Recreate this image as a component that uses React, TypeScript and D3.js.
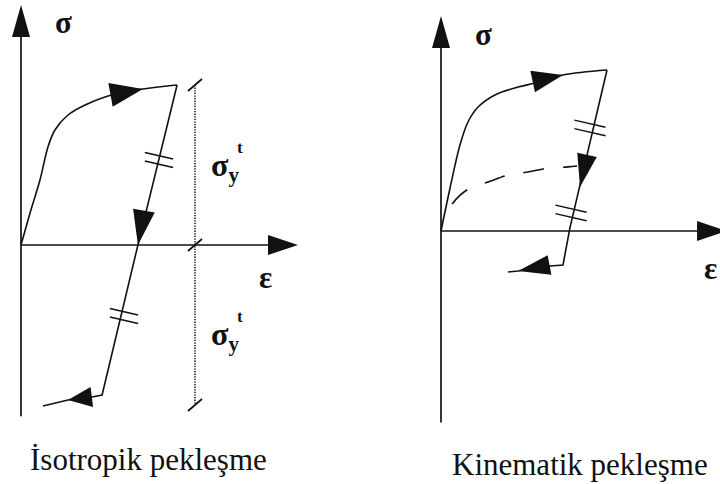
import React from "react";
import * as d3 from "d3";

type P = [number, number];

// ---- Data (strain ε, stress σ in normalised units) ----
const ISO_LOADING: P[] = [[0,0],[0.052,0.2],[0.109,0.406],[0.155,0.613],[0.195,0.719],[0.27,0.8125],[0.368,0.875],[0.483,0.925],[0.598,0.956],[0.701,0.975],[0.839,0.994],[0.897,1.0]];
const ISO_UNLOADING: P[] = [[0.897,1.0],[0.672,0],[0.466,-0.9375],[0.408,-0.95],[0.27,-0.969],[0.126,-1.006]];
const ISO_ARROWS = [
  { tip: [0.701, 0.975] as P, from: [0.511, 0.9375] as P, len: 33, hw: 12 },
  { tip: [0.672, 0] as P, from: [0.707, 0.219] as P, len: 35, hw: 11 },
  { tip: [0.27, -0.969] as P, from: [0.408, -0.95] as P, len: 24, hw: 10 },
];
const ISO_SLASHES: P[] = [[0.793, 0.531], [0.592, -0.444]];
const ISO_YIELD_EPS = 1;
const ISO_YIELD_RANGE: P = [-1, 1];

const KIN_LOADING: P[] = [[0,0],[0.052,0.267],[0.109,0.534],[0.155,0.677],[0.213,0.77],[0.31,0.845],[0.443,0.894],[0.54,0.919],[0.701,0.969],[0.954,1.0]];
const KIN_UNLOADING: P[] = [[0.954,1.0],[0.741,0.019],[0.701,-0.211],[0.626,-0.217],[0.443,-0.248],[0.385,-0.255]];
const KIN_DASHED: P[] = [[0,0],[0.069,0.174],[0.167,0.267],[0.27,0.304],[0.385,0.348],[0.5,0.366],[0.615,0.391],[0.73,0.398],[0.782,0.404]];
const KIN_ARROWS = [
  { tip: [0.701, 0.969] as P, from: [0.54, 0.932] as P, len: 31, hw: 11 },
  { tip: [0.799, 0.273] as P, from: [0.839, 0.472] as P, len: 33, hw: 10 },
  { tip: [0.443, -0.248] as P, from: [0.626, -0.211] as P, len: 32, hw: 10 },
];
const KIN_SLASHES: P[] = [[0.856, 0.64], [0.747, 0.112]];

const TITLES = ["İsotropik pekleşme", "Kinematik pekleşme"];
const AXIS_LABELS = { stress: "σ", strain: "ε", yieldSym: "σ", yieldSub: "y", yieldSup: "t" };

const FONT = "'Times New Roman', 'Liberation Serif', 'DejaVu Serif', serif";
const INK = "#111";

// scales
const xIso = d3.scaleLinear().domain([0, 1]).range([21, 195]);
const yIso = d3.scaleLinear().domain([-1, 1]).range([405, 85]);
const xKin = d3.scaleLinear().domain([0, 1]).range([441, 615]);
const yKin = d3.scaleLinear().domain([-1, 1]).range([392, 70]);

function arrowPath(tipPx: P, fromPx: P, len: number, hw: number) {
  const dx = tipPx[0] - fromPx[0];
  const dy = tipPx[1] - fromPx[1];
  const n = Math.hypot(dx, dy) || 1;
  const ux = dx / n, uy = dy / n;
  const bx = tipPx[0] - ux * len, by = tipPx[1] - uy * len;
  const px = -uy, py = ux;
  return `M${tipPx[0]},${tipPx[1]}L${bx + px * hw},${by + py * hw}L${bx - px * hw},${by - py * hw}Z`;
}

function Slash({ cx, cy, len = 29, gap = 8.5, angle = 13 }: { cx: number; cy: number; len?: number; gap?: number; angle?: number }) {
  const a = (angle * Math.PI) / 180;
  const ux = Math.cos(a), uy = Math.sin(a);
  const h = len / 2;
  return (
    <g stroke={INK} strokeWidth={1.5}>
      {[-gap / 2, gap / 2].map((o, i) => (
        <line key={i} x1={cx - ux * h} y1={cy - uy * h + o} x2={cx + ux * h} y2={cy + uy * h + o} />
      ))}
    </g>
  );
}

function Axes({ x, y, yMin, yMax, xMax }: { x: d3.ScaleLinear<number, number>; y: d3.ScaleLinear<number, number>; yMin: number; yMax: number; xMax: number }) {
  const x0 = x(0), y0 = y(0);
  const yTop = y(yMax), yBot = y(yMin), xEnd = x(xMax);
  return (
    <g>
      <line x1={x0} y1={yBot} x2={x0} y2={yTop + 20} stroke={INK} strokeWidth={1.7} />
      <path d={`M${x0},${yTop}L${x0 + 9},${yTop + 32}L${x0 - 9},${yTop + 32}Z`} fill={INK} />
      <line x1={x0} y1={y0} x2={xEnd - 20} y2={y0} stroke={INK} strokeWidth={1.7} />
      <path d={`M${xEnd},${y0}L${xEnd - 30},${y0 - 10}L${xEnd - 30},${y0 + 10}Z`} fill={INK} />
    </g>
  );
}

export default function App() {
  const lineIso = (pts: P[], curve = d3.curveLinear) =>
    d3.line<P>().x((d) => xIso(d[0])).y((d) => yIso(d[1])).curve(curve)(pts) || "";
  const lineKin = (pts: P[], curve = d3.curveLinear) =>
    d3.line<P>().x((d) => xKin(d[0])).y((d) => yKin(d[1])).curve(curve)(pts) || "";

  const dottedX = xIso(ISO_YIELD_EPS);
  const dTop = yIso(ISO_YIELD_RANGE[1]);
  const dBot = yIso(ISO_YIELD_RANGE[0]);
  const dMid = yIso(0);

  const tickSlash = (cx: number, cy: number, k: number) => (
    <line key={k} x1={cx - 7} y1={cy + 6} x2={cx + 7} y2={cy - 6} stroke={INK} strokeWidth={1.7} />
  );
  const ts: React.CSSProperties = { fontFamily: FONT };

  return (
    <svg width={720} height={484} style={{ position: "absolute", left: 0, top: 0, background: "#fff" }}>
      <rect width={720} height={484} fill="#fff" />
      {/* ---------- Isotropic ---------- */}
      <Axes x={xIso} y={yIso} yMin={-1.07} yMax={1.5} xMax={1.592} />
      <path d={lineIso(ISO_LOADING, d3.curveCatmullRom.alpha(0.5))} fill="none" stroke={INK} strokeWidth={1.6} />
      <path d={lineIso(ISO_UNLOADING)} fill="none" stroke={INK} strokeWidth={1.6} />
      {ISO_ARROWS.map((a, i) => (
        <path key={i} d={arrowPath([xIso(a.tip[0]), yIso(a.tip[1])], [xIso(a.from[0]), yIso(a.from[1])], a.len, a.hw)} fill={INK} />
      ))}
      {ISO_SLASHES.map((s, i) => (
        <Slash key={i} cx={xIso(s[0])} cy={yIso(s[1])} />
      ))}
      <line x1={dottedX} y1={dTop} x2={dottedX} y2={dBot} stroke="#333" strokeWidth={1.8} strokeDasharray="1.3 1.3" />
      {[dTop, dMid, dBot].map((cy, i) => tickSlash(dottedX, cy, i))}
      <text x={55} y={33} fontSize={31} fontWeight="bold" fill={INK} style={ts}>{AXIS_LABELS.stress}</text>
      <text x={259} y={288} fontSize={31} fontWeight="bold" fill={INK} style={ts}>{AXIS_LABELS.strain}</text>
      <text x={211} y={176} fill={INK} fontWeight="bold" style={ts}>
        <tspan fontSize={32}>{AXIS_LABELS.yieldSym}</tspan>
        <tspan fontSize={21} dy={6}>{AXIS_LABELS.yieldSub}</tspan>
        <tspan fontSize={17} dx={-2} dy={-29}>{AXIS_LABELS.yieldSup}</tspan>
      </text>
      <text x={211} y={345} fill={INK} fontWeight="bold" style={ts}>
        <tspan fontSize={32}>{AXIS_LABELS.yieldSym}</tspan>
        <tspan fontSize={21} dy={6}>{AXIS_LABELS.yieldSub}</tspan>
        <tspan fontSize={17} dx={-2} dy={-29}>{AXIS_LABELS.yieldSup}</tspan>
      </text>
      <text x={30} y={470} fontSize={31} fill={INK} style={ts}>{TITLES[0]}</text>

      {/* ---------- Kinematic ---------- */}
      <Axes x={xKin} y={yKin} yMin={-1.19} yMax={1.335} xMax={1.644} />
      <path d={lineKin(KIN_LOADING, d3.curveCatmullRom.alpha(0.5))} fill="none" stroke={INK} strokeWidth={1.6} />
      <path d={lineKin(KIN_UNLOADING)} fill="none" stroke={INK} strokeWidth={1.6} />
      <path d={lineKin(KIN_DASHED, d3.curveCatmullRom.alpha(0.5))} fill="none" stroke={INK} strokeWidth={1.6} strokeDasharray="0 29 21 19 21 19 21 19 60" />
      {KIN_ARROWS.map((a, i) => (
        <path key={i} d={arrowPath([xKin(a.tip[0]), yKin(a.tip[1])], [xKin(a.from[0]), yKin(a.from[1])], a.len, a.hw)} fill={INK} />
      ))}
      {KIN_SLASHES.map((s, i) => (
        <Slash key={i} cx={xKin(s[0])} cy={yKin(s[1])} len={32} />
      ))}
      <text x={475} y={45} fontSize={31} fontWeight="bold" fill={INK} style={ts}>{AXIS_LABELS.stress}</text>
      <text x={704} y={279} fontSize={31} fontWeight="bold" fill={INK} style={ts}>{AXIS_LABELS.strain}</text>
      <text x={452} y={475} fontSize={31} fill={INK} style={ts}>{TITLES[1]}</text>
    </svg>
  );
}
